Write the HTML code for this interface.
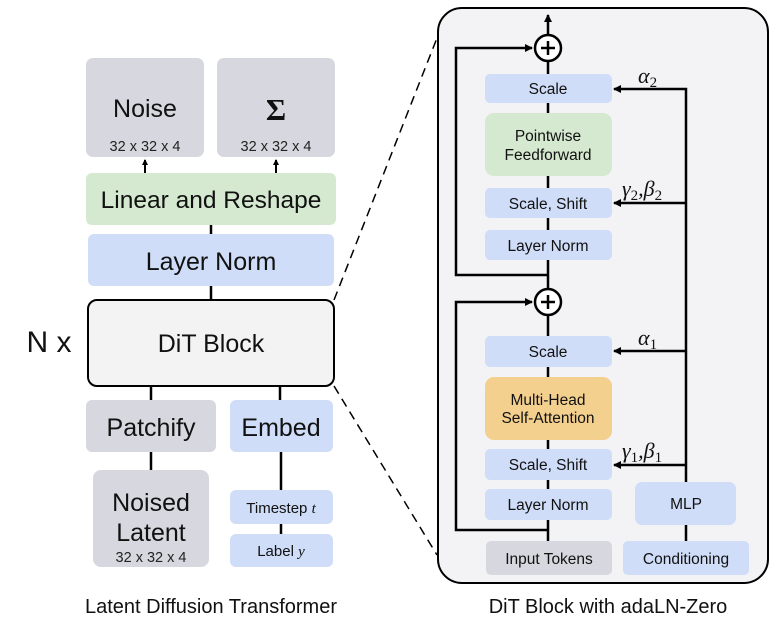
<!DOCTYPE html>
<html><head><meta charset="utf-8"><style>
html,body{margin:0;padding:0;background:#fff;}
svg{display:block;font-family:"Liberation Sans",sans-serif;}
</style></head><body>
<svg width="781" height="633" viewBox="0 0 781 633" xmlns="http://www.w3.org/2000/svg">
<defs>
<marker id="ah" markerWidth="8" markerHeight="8" refX="7" refY="4" orient="auto" markerUnits="userSpaceOnUse">
<path d="M0,0 L8,4 L0,8 z" fill="#000"/></marker>
<marker id="as" markerWidth="6" markerHeight="6" refX="5" refY="3" orient="auto" markerUnits="userSpaceOnUse">
<path d="M0,0 L6,3 L0,6 z" fill="#000"/></marker>
</defs>
<!-- Left side -->
<rect x="86" y="58" width="118" height="99" rx="7" fill="#d7d8df"/>
<rect x="217" y="58" width="118" height="99" rx="7" fill="#d7d8df"/>
<text x="145" y="117" font-size="25" text-anchor="middle" fill="#111">Noise</text>
<text x="145" y="151" font-size="14.5" text-anchor="middle" fill="#222">32 x 32 x 4</text>
<text x="276" y="120" font-size="31" font-weight="bold" text-anchor="middle" fill="#111" font-family="Liberation Serif">Σ</text>
<text x="276" y="151" font-size="14.5" text-anchor="middle" fill="#222">32 x 32 x 4</text>
<line x1="145" y1="173" x2="145" y2="160" stroke="#000" stroke-width="2" marker-end="url(#as)"/>
<line x1="276" y1="173" x2="276" y2="160" stroke="#000" stroke-width="2" marker-end="url(#as)"/>
<rect x="86" y="173" width="250" height="52" rx="6" fill="#d5e9d0"/>
<text x="211" y="208" font-size="24.5" text-anchor="middle" fill="#111">Linear and Reshape</text>
<line x1="211" y1="225" x2="211" y2="234" stroke="#000" stroke-width="2.5"/>
<rect x="88" y="234" width="246" height="52" rx="6" fill="#cfddf8"/>
<text x="211" y="270" font-size="25" text-anchor="middle" fill="#111">Layer Norm</text>
<line x1="211" y1="286" x2="211" y2="300" stroke="#000" stroke-width="2.5"/>
<rect x="88" y="300" width="246" height="86" rx="9" fill="#f3f3f3" stroke="#000" stroke-width="2"/>
<text x="211" y="352" font-size="25" text-anchor="middle" fill="#111">DiT Block</text>
<text x="49" y="352" font-size="30" text-anchor="middle" fill="#111">N x</text>
<line x1="151" y1="386" x2="151" y2="400" stroke="#000" stroke-width="2.5"/>
<line x1="280" y1="386" x2="280" y2="400" stroke="#000" stroke-width="2.5"/>
<rect x="86" y="400" width="130" height="52" rx="6" fill="#d7d8df"/>
<text x="151" y="436" font-size="25" text-anchor="middle" fill="#111">Patchify</text>
<rect x="230" y="400" width="103" height="52" rx="6" fill="#cfddf8"/>
<text x="281" y="436" font-size="25" text-anchor="middle" fill="#111">Embed</text>
<line x1="151" y1="452" x2="151" y2="470" stroke="#000" stroke-width="2.5"/>
<line x1="281" y1="452" x2="281" y2="490" stroke="#000" stroke-width="2.5"/>
<rect x="93" y="470" width="116" height="97" rx="8" fill="#d7d8df"/>
<text x="151" y="511" font-size="25" text-anchor="middle" fill="#111">Noised</text>
<text x="151" y="541" font-size="25" text-anchor="middle" fill="#111">Latent</text>
<text x="151" y="562" font-size="14.5" text-anchor="middle" fill="#222">32 x 32 x 4</text>
<rect x="230" y="490" width="103" height="34" rx="6" fill="#cfddf8"/>
<text x="281" y="513" font-size="15" text-anchor="middle" fill="#111">Timestep <tspan font-family="Liberation Serif" font-style="italic">t</tspan></text>
<line x1="281" y1="524" x2="281" y2="534" stroke="#000" stroke-width="2.5"/>
<rect x="230" y="534" width="103" height="33" rx="6" fill="#cfddf8"/>
<text x="281" y="556" font-size="15" text-anchor="middle" fill="#111">Label <tspan font-family="Liberation Serif" font-style="italic">y</tspan></text>
<text x="211" y="613" font-size="20" text-anchor="middle" fill="#111">Latent Diffusion Transformer</text>
<!-- dashed -->
<line x1="334" y1="300" x2="437" y2="38" stroke="#000" stroke-width="1.5" stroke-dasharray="9,6"/>
<line x1="334" y1="386" x2="437" y2="555" stroke="#000" stroke-width="1.5" stroke-dasharray="9,6"/>
<!-- Right panel -->
<rect x="438" y="8" width="330" height="575" rx="24" fill="#f3f3f5" stroke="#000" stroke-width="2"/>
<g font-size="15.5" fill="#111" text-anchor="middle">
<rect x="485" y="74" width="127" height="29" rx="5" fill="#cfddf8"/>
<text x="548" y="94">Scale</text>
<rect x="485" y="113" width="127" height="63" rx="9" fill="#d5e9d0"/>
<text x="548" y="141">Pointwise</text>
<text x="548" y="160">Feedforward</text>
<rect x="485" y="188" width="127" height="30" rx="5" fill="#cfddf8"/>
<text x="548" y="209">Scale, Shift</text>
<rect x="485" y="230" width="127" height="30" rx="5" fill="#cfddf8"/>
<text x="548" y="251">Layer Norm</text>
<rect x="485" y="336" width="127" height="31" rx="5" fill="#cfddf8"/>
<text x="548" y="357">Scale</text>
<rect x="485" y="377" width="127" height="63" rx="9" fill="#f4d08f"/>
<text x="548" y="405">Multi-Head</text>
<text x="548" y="423">Self-Attention</text>
<rect x="485" y="449" width="127" height="31" rx="5" fill="#cfddf8"/>
<text x="548" y="470">Scale, Shift</text>
<rect x="485" y="489" width="127" height="31" rx="5" fill="#cfddf8"/>
<text x="548" y="510">Layer Norm</text>
<rect x="486" y="541" width="126" height="34" rx="5" fill="#d7d8df"/>
<text x="549" y="564">Input Tokens</text>
<rect x="623" y="541" width="126" height="34" rx="5" fill="#cfddf8"/>
<text x="686" y="564">Conditioning</text>
<rect x="635" y="482" width="101" height="43" rx="7" fill="#cfddf8"/>
<text x="686" y="509">MLP</text>
</g>
<g stroke="#000" stroke-width="2.5" fill="none">
<line x1="548" y1="541" x2="548" y2="520"/>
<line x1="548" y1="489" x2="548" y2="480"/>
<line x1="548" y1="449" x2="548" y2="440"/>
<line x1="548" y1="377" x2="548" y2="367"/>
<line x1="548" y1="336" x2="548" y2="316"/>
<line x1="548" y1="288" x2="548" y2="260"/>
<line x1="548" y1="230" x2="548" y2="218"/>
<line x1="548" y1="188" x2="548" y2="176"/>
<line x1="548" y1="113" x2="548" y2="103"/>
<line x1="548" y1="74" x2="548" y2="62"/>
<line x1="548" y1="34" x2="548" y2="15" marker-end="url(#ah)"/>
<polyline points="548,530 456,530 456,302 532,302" marker-end="url(#ah)"/>
<polyline points="548,275 456,275 456,48 532,48" marker-end="url(#ah)"/>
<line x1="686" y1="541" x2="686" y2="525"/>
<polyline points="686,482 686,89 614,89" marker-end="url(#ah)"/>
<line x1="686" y1="203" x2="614" y2="203" marker-end="url(#ah)"/>
<line x1="686" y1="351" x2="614" y2="351" marker-end="url(#ah)"/>
<line x1="686" y1="465" x2="614" y2="465" marker-end="url(#ah)"/>
<circle cx="548" cy="48" r="13" fill="#fff"/>
<circle cx="548" cy="302" r="13" fill="#fff"/>
<line x1="541" y1="48" x2="555" y2="48"/><line x1="548" y1="41" x2="548" y2="55"/>
<line x1="541" y1="302" x2="555" y2="302"/><line x1="548" y1="295" x2="548" y2="309"/>
</g>
<g font-family="Liberation Serif" font-style="italic" font-size="22" fill="#111">
<text x="638" y="83">α<tspan font-size="15" font-style="normal" dy="4">2</tspan></text>
<text x="622" y="196">γ<tspan font-size="15" font-style="normal" dy="4">2</tspan><tspan dy="-4">,β</tspan><tspan font-size="15" font-style="normal" dy="4">2</tspan></text>
<text x="638" y="345">α<tspan font-size="15" font-style="normal" dy="4">1</tspan></text>
<text x="622" y="458">γ<tspan font-size="15" font-style="normal" dy="4">1</tspan><tspan dy="-4">,β</tspan><tspan font-size="15" font-style="normal" dy="4">1</tspan></text>
</g>
<text x="608" y="613" font-size="20" text-anchor="middle" fill="#111">DiT Block with adaLN-Zero</text>
</svg>
</body></html>
